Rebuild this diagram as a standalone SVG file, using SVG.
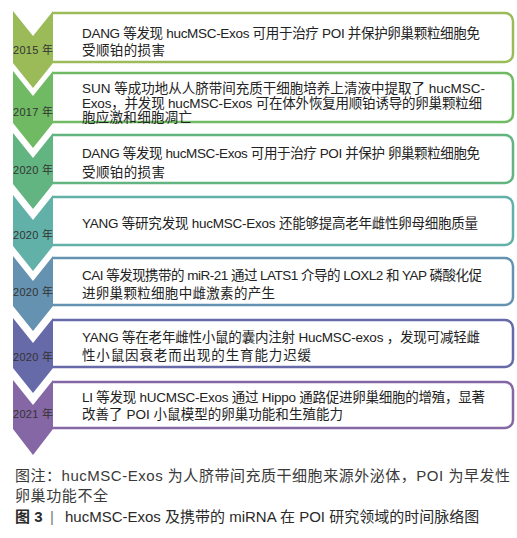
<svg xmlns="http://www.w3.org/2000/svg" width="517" height="538" viewBox="0 0 517 538">
<defs>
<style>
text{font-family:"Liberation Sans","Noto Sans CJK SC",sans-serif;}
.box{fill:#fff;stroke-width:2.5;}
.yr{font-size:11px;fill:#333;text-anchor:middle;}
.t{font-size:13.5px;fill:#222;}
.cap{font-size:15px;fill:#3a3a3a;}
.ttl{font-size:15px;fill:#2a2a2a;}
</style>
</defs>
<rect width="517" height="538" fill="#fff"/>

<g id="item1">
<path class="box" stroke="#9BBB59" d="M53,13 H505 A8,8 0 0 1 513,21 V54 A8,8 0 0 1 505,62 H53"/>
<polygon fill="#9BBB59" points="13,11 33,36 53,11 53,63 33,88 13,63"/>
<text class="yr" x="33" y="54" textLength="40" lengthAdjust="spacing">2015 年</text>
<text class="t" x="82" y="38" textLength="398" lengthAdjust="spacing">DANG 等发现 hucMSC-Exos 可用于治疗 POI 并保护卵巢颗粒细胞免</text>
<text class="t" x="82" y="55" textLength="83" lengthAdjust="spacing">受顺铂的损害</text>
</g>

<g id="item2">
<path class="box" stroke="#6FBA63" d="M53,73 H505 A8,8 0 0 1 513,81 V114 A8,8 0 0 1 505,122 H53"/>
<polygon fill="#6FBA63" points="13,71 33,96 53,71 53,123 33,148 13,123"/>
<text class="yr" x="33" y="116" textLength="40" lengthAdjust="spacing">2017 年</text>
<text class="t" x="82" y="93" textLength="403" lengthAdjust="spacing">SUN 等成功地从人脐带间充质干细胞培养上清液中提取了 hucMSC-</text>
<text class="t" x="82" y="107.5" textLength="400" lengthAdjust="spacing">Exos，并发现 hucMSC-Exos 可在体外恢复用顺铂诱导的卵巢颗粒细</text>
<text class="t" x="82" y="122" textLength="110" lengthAdjust="spacing">胞应激和细胞凋亡</text>
</g>

<g id="item3">
<path class="box" stroke="#62B581" d="M53,135 H505 A8,8 0 0 1 513,143 V175 A8,8 0 0 1 505,183 H53"/>
<polygon fill="#62B581" points="13,133 33,158 53,133 53,184 33,209 13,184"/>
<text class="yr" x="33" y="174" textLength="40" lengthAdjust="spacing">2020 年</text>
<text class="t" x="82" y="158" textLength="398" lengthAdjust="spacing">DANG 等发现 hucMSC-Exos 可用于治疗 POI 并保护 卵巢颗粒细胞免</text>
<text class="t" x="82" y="177" textLength="83" lengthAdjust="spacing">受顺铂的损害</text>
</g>

<g id="item4">
<path class="box" stroke="#62B1A8" d="M53,197 H505 A8,8 0 0 1 513,205 V237 A8,8 0 0 1 505,245 H53"/>
<polygon fill="#62B1A8" points="13,195 33,220 53,195 53,246 33,271 13,246"/>
<text class="yr" x="33" y="239" textLength="40" lengthAdjust="spacing">2020 年</text>
<text class="t" x="82" y="228" textLength="396" lengthAdjust="spacing">YANG 等研究发现 hucMSC-Exos 还能够提高老年雌性卵母细胞质量</text>
</g>

<g id="item5">
<path class="box" stroke="#6592B0" d="M53,258 H505 A8,8 0 0 1 513,266 V297 A8,8 0 0 1 505,305 H53"/>
<polygon fill="#6592B0" points="13,256 33,281 53,256 53,306 33,331 13,306"/>
<text class="yr" x="33" y="296" textLength="40" lengthAdjust="spacing">2020 年</text>
<text class="t" x="82" y="280" textLength="400" lengthAdjust="spacing">CAI 等发现携带的 miR-21 通过 LATS1 介导的 LOXL2 和 YAP 磷酸化促</text>
<text class="t" x="82" y="298" textLength="193" lengthAdjust="spacing">进卵巢颗粒细胞中雌激素的产生</text>
</g>

<g id="item6">
<path class="box" stroke="#666AA9" d="M53,320 H505 A8,8 0 0 1 513,328 V359 A8,8 0 0 1 505,367 H53"/>
<polygon fill="#666AA9" points="13,318 33,343 53,318 53,368 33,393 13,368"/>
<text class="yr" x="33" y="361" textLength="40" lengthAdjust="spacing">2020 年</text>
<text class="t" x="82" y="342" textLength="398" lengthAdjust="spacing">YANG 等在老年雌性小鼠的囊内注射 HucMSC-exos ，发现可减轻雌</text>
<text class="t" x="82" y="360" textLength="229" lengthAdjust="spacing">性小鼠因衰老而出现的生育能力迟缓</text>
</g>

<g id="item7">
<path class="box" stroke="#8567A5" d="M53,382 H505 A8,8 0 0 1 513,390 V420 A8,8 0 0 1 505,428 H53"/>
<polygon fill="#8567A5" points="13,380 33,405 53,380 53,429 33,455 13,429"/>
<text class="yr" x="33" y="418" textLength="40" lengthAdjust="spacing">2021 年</text>
<text class="t" x="82" y="402" textLength="403" lengthAdjust="spacing">LI 等发现 hUCMSC-Exos 通过 Hippo 通路促进卵巢细胞的增殖，显著</text>
<text class="t" x="82" y="418.5" textLength="261" lengthAdjust="spacing">改善了 POI 小鼠模型的卵巢功能和生殖能力</text>
</g>

<g id="caption">
<text class="cap" x="15" y="480.5" textLength="495" lengthAdjust="spacing">图注：hucMSC-Exos 为人脐带间充质干细胞来源外泌体，POI 为早发性</text>
<text class="cap" x="15" y="500.5" textLength="93" lengthAdjust="spacing">卵巢功能不全</text>
<text class="ttl" x="15" y="522"><tspan font-weight="bold">图 3</tspan><tspan x="50" fill="#777">|</tspan><tspan x="65">hucMSC-Exos 及携带的 miRNA 在 POI 研究领域的时间脉络图</tspan></text>
</g>
</svg>
